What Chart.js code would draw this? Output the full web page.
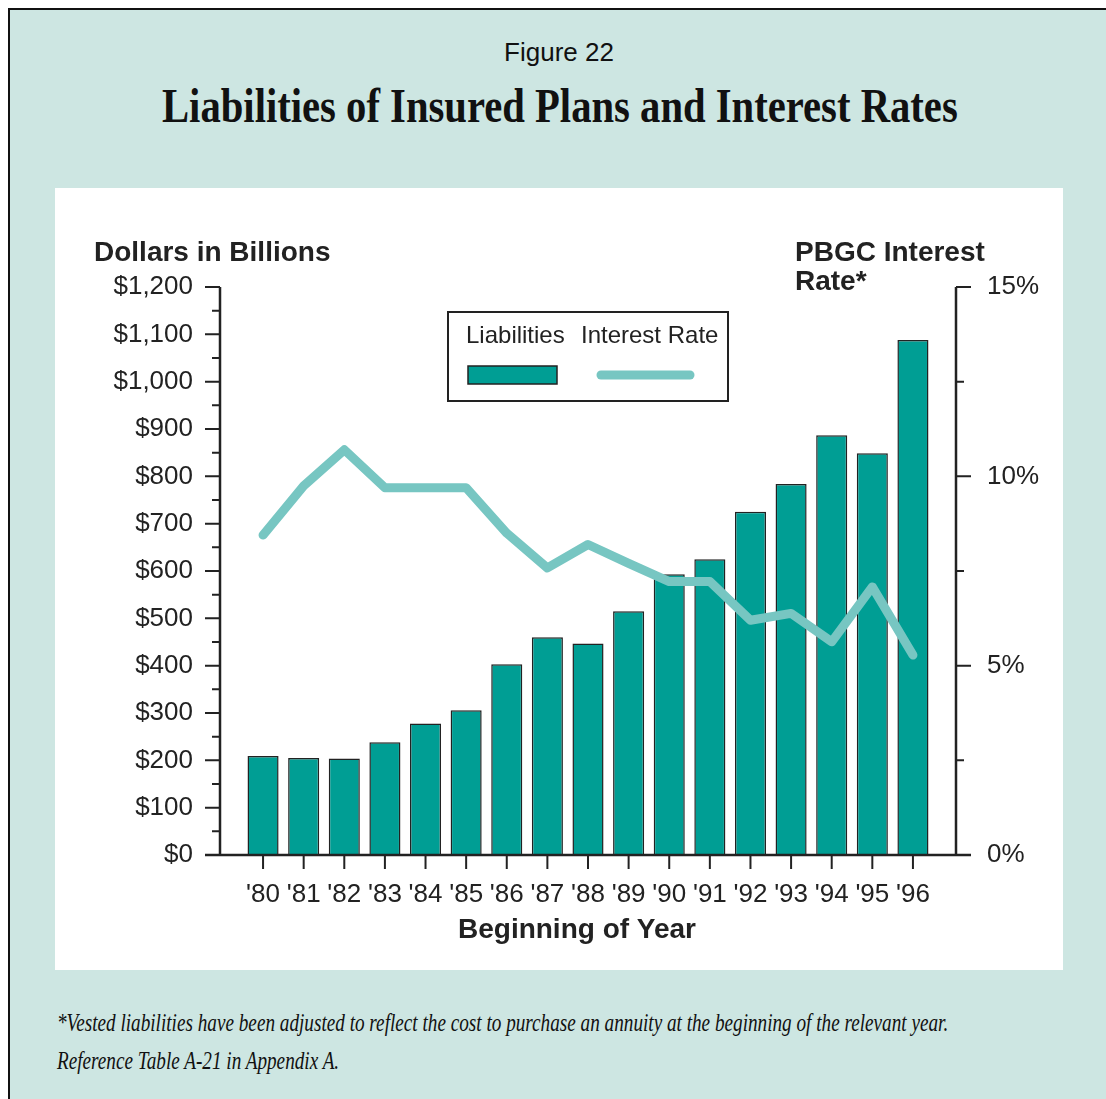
<!DOCTYPE html>
<html>
<head>
<meta charset="utf-8">
<script src="https://cdn.jsdelivr.net/npm/chart.js@4.4.1/dist/chart.umd.min.js"></script>
<style>
  html, body { margin: 0; padding: 0; background: #fff; }
  body { width: 1106px; height: 1099px; overflow: hidden; position: relative; font-family: "Liberation Sans", Arial, sans-serif; color: #111; }
  #frame { position: absolute; left: 8px; top: 8px; width: 1120px; height: 1120px; background: #cde6e2; border-left: 2px solid #111; border-top: 2px solid #111; }
  .txt { position: absolute; white-space: nowrap; line-height: 1; }
  #fig { left: 559px; top: 39px; font-size: 26px; transform: translateX(-50%); }
  #title { left: 162px; top: 82px; font-family: "Liberation Serif", serif; font-weight: bold; font-size: 48px; transform-origin: 0 0; display: inline-block; }
  .note { left: 57px; font-family: "Liberation Serif", serif; font-style: italic; font-size: 26px; transform-origin: 0 0; display: inline-block; }
  #note1 { top: 1010px; }
  #note2 { top: 1048px; }
  #panel { position: absolute; left: 55px; top: 188px; width: 1008px; height: 782px; background: #fff; }
</style>
</head>
<body>
<div id="frame"></div>
<div class="txt" id="fig">Figure 22</div>
<div class="txt" id="title">Liabilities of Insured Plans and Interest Rates</div>
<div id="panel"><canvas id="chart" width="1008" height="782"></canvas></div>
<div class="txt note" id="note1">*Vested liabilities have been adjusted to reflect the cost to purchase an annuity at the beginning of the relevant year.</div>
<div class="txt note" id="note2">Reference Table A-21 in Appendix A.</div>
<script>
// values
const years = ["'80", "'81", "'82", "'83", "'84", "'85", "'86", "'87", "'88",
               "'89", "'90", "'91", "'92", "'93", "'94", "'95", "'96"];
const liabilities = [209, 205, 204, 238, 278, 306, 403, 460, 447,
                     515, 593, 625, 725, 784, 887, 849, 1088];
const interestRates = [8.45, 9.75, 10.7, 9.7, 9.7, 9.7, 8.5, 7.58, 8.2,
                       7.7, 7.22, 7.22, 6.2, 6.38, 5.63, 7.08, 5.28];
const dollarTicks = [0, 100, 200, 300, 400, 500, 600, 700, 800, 900, 1000, 1100, 1200];
const rateTicks = [0, 5, 10, 15];

const BAR = '#009e94';
const LINE = '#77c6c2';
const INK = '#222';

function fitWidth(el, w) {
  el.style.transform = 'scaleX(' + (w / el.offsetWidth) + ')';
}
function fitText() {
  fitWidth(document.getElementById('title'), 796);
  const n1 = document.getElementById('note1');
  const s = 891 / n1.offsetWidth;
  n1.style.transform = 'scaleX(' + s + ')';
  document.getElementById('note2').style.transform = 'scaleX(' + s + ')';
}
fitText();
document.fonts.ready.then(fitText);

const midpoints = (t) => t.slice(1).map((v, i) => (v + t[i]) / 2);

// axis lines and ticks, major and minor
const axesPlugin = {
  id: 'axes',
  afterDatasetsDraw(chart) {
    const { ctx, chartArea: a, scales: { x, y, y1 } } = chart;
    ctx.save();
    ctx.strokeStyle = INK;
    ctx.lineWidth = 2.5;
    ctx.beginPath();
    ctx.moveTo(a.left, a.top); ctx.lineTo(a.left, a.bottom);
    ctx.moveTo(a.right, a.top); ctx.lineTo(a.right, a.bottom);
    ctx.moveTo(a.left - 15, a.bottom); ctx.lineTo(a.right + 15, a.bottom);
    ctx.stroke();

    ctx.lineWidth = 2;
    ctx.beginPath();
    dollarTicks.forEach(v => { const p = y.getPixelForValue(v); ctx.moveTo(a.left - 15, p); ctx.lineTo(a.left, p); });
    midpoints(dollarTicks).forEach(v => { const p = y.getPixelForValue(v); ctx.moveTo(a.left - 8, p); ctx.lineTo(a.left, p); });
    rateTicks.forEach(v => { const p = y1.getPixelForValue(v); ctx.moveTo(a.right, p); ctx.lineTo(a.right + 15, p); });
    midpoints(rateTicks).forEach(v => { const p = y1.getPixelForValue(v); ctx.moveTo(a.right, p); ctx.lineTo(a.right + 8, p); });
    years.forEach((_, i) => { const p = x.getPixelForValue(i); ctx.moveTo(p, a.bottom); ctx.lineTo(p, a.bottom + 14); });
    ctx.stroke();
    ctx.restore();
  }
};

// axis titles and the boxed legend
const labelsPlugin = {
  id: 'labels',
  afterDraw(chart) {
    const { ctx } = chart;
    const bars = chart.data.datasets.find(d => d.type === 'bar');
    const line = chart.data.datasets.find(d => d.type === 'line');
    ctx.save();
    ctx.fillStyle = INK;
    ctx.textBaseline = 'middle';
    ctx.font = 'bold 28px "Liberation Sans", Arial, sans-serif';
    ctx.textAlign = 'left';
    ctx.fillText('Dollars in Billions', 39, 65);
    ctx.fillText('PBGC Interest', 740, 65);
    ctx.fillText('Rate*', 740, 94);
    ctx.textAlign = 'center';
    ctx.fillText('Beginning of Year', 522, 742);

    // legend
    ctx.lineWidth = 2;
    ctx.strokeStyle = INK;
    ctx.strokeRect(393, 124, 280, 89);
    ctx.font = '24px "Liberation Sans", Arial, sans-serif';
    ctx.textAlign = 'left';
    ctx.fillText(bars.label, 411, 148);
    ctx.fillText(line.label, 526, 148);
    ctx.fillStyle = bars.backgroundColor;
    ctx.fillRect(413, 178, 89, 18);
    ctx.lineWidth = 1.5;
    ctx.strokeRect(413, 178, 89, 18);
    ctx.strokeStyle = line.borderColor;
    ctx.lineWidth = 9;
    ctx.lineCap = 'round';
    ctx.beginPath();
    ctx.moveTo(546, 187); ctx.lineTo(635, 187);
    ctx.stroke();
    ctx.restore();
  }
};

const tickFont = { family: '"Liberation Sans", Arial, sans-serif', size: 26 };

new Chart(document.getElementById('chart'), {
  data: {
    datasets: [
      {
        type: 'line',
        label: 'Interest Rate',
        data: interestRates.map((v, i) => ({ x: i, y: v })),
        yAxisID: 'y1',
        borderColor: LINE,
        backgroundColor: LINE,
        borderWidth: 9,
        borderCapStyle: 'round',
        borderJoinStyle: 'round',
        pointRadius: 0,
        tension: 0,
        order: 0,
      },
      {
        type: 'bar',
        label: 'Liabilities',
        data: liabilities.map((v, i) => ({ x: i, y: v })),
        yAxisID: 'y',
        backgroundColor: BAR,
        borderColor: INK,
        borderWidth: 1.5,
        borderSkipped: 'bottom',
        categoryPercentage: 1,
        barPercentage: 0.765,
        order: 1,
      },
    ],
  },
  options: {
    responsive: false,
    animation: false,
    layout: { padding: { top: 99, left: 0, right: 0, bottom: 0 } },
    plugins: { legend: { display: false }, tooltip: { enabled: false } },
    scales: {
      x: {
        type: 'linear',
        offset: false,
        min: -1.06,
        max: years.length - 1 + 1.06,
        afterBuildTicks: (s) => { s.ticks = years.map((_, i) => ({ value: i })); },
        afterFit: (s) => { s.height = 115; },
        grid: { display: false, drawTicks: false, offset: false },
        border: { display: false },
        ticks: {
          autoSkip: false, maxRotation: 0, padding: 24,
          color: INK, font: tickFont,
          callback: (v) => years[v],
        },
      },
      y: {
        position: 'left',
        min: 0, max: 1200,
        afterBuildTicks: (s) => { s.ticks = dollarTicks.map(v => ({ value: v })); },
        afterFit: (s) => { s.width = 165; },
        grid: { display: false, drawTicks: false },
        border: { display: false },
        ticks: {
          padding: 27, color: INK, font: tickFont,
          callback: (v) => '$' + v.toLocaleString('en-US'),
        },
      },
      y1: {
        position: 'right',
        min: 0, max: 15,
        afterBuildTicks: (s) => { s.ticks = rateTicks.map(v => ({ value: v })); },
        afterFit: (s) => { s.width = 107; },
        grid: { display: false, drawTicks: false },
        border: { display: false },
        ticks: {
          padding: 31, color: INK, font: tickFont,
          callback: (v) => v + '%',
        },
      },
    },
  },
  plugins: [axesPlugin, labelsPlugin],
});
</script>
</body>
</html>
